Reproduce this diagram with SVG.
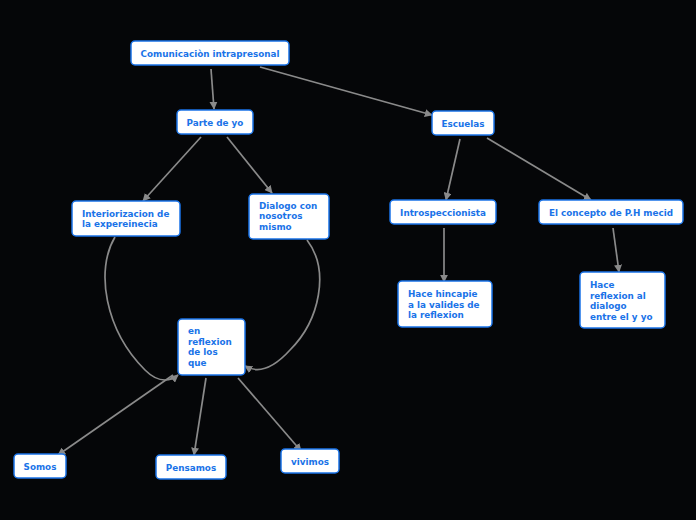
<svg xmlns="http://www.w3.org/2000/svg" width="696" height="520" viewBox="0 0 696 520">
<style>
.n rect{fill:#ffffff;stroke:#1a73e8;stroke-width:1.5}
.n text{font-family:"DejaVu Sans",Verdana,sans-serif;font-weight:bold;font-size:8.8px;fill:#1a73e8}
.c path{fill:none;stroke:#8a8a8a;stroke-width:1.7;marker-end:url(#ah)}
</style>
<defs>
<marker id="ah" viewBox="0 0 10 10" refX="9" refY="5" markerWidth="8" markerHeight="8" markerUnits="userSpaceOnUse" orient="auto">
<path d="M0,0 L10,5 L0,10 z" fill="#8a8a8a"/>
</marker>
</defs>
<rect width="696" height="520" fill="#050608"/>
<g id="connectors" class="c">
<path d="M211,69 L214,109"/>
<path d="M260,67 L432,115"/>
<path d="M201,137 L143,201"/>
<path d="M227,137 L272,193"/>
<path d="M460,139 L446,200"/>
<path d="M487,138 L591,200"/>
<path d="M444,228 L444,282"/>
<path d="M613,228 L619,272"/>
<path d="M115,237 C95,270 105,330 145,370 C160,385 172,380 178,375"/>
<path d="M307,240 C330,270 320,320 290,350 C270,372 255,372 245,366"/>
<path d="M173,375 L58,455"/>
<path d="M206,378 L194,455"/>
<path d="M238,378 L301,451"/>
</g>
<g id="n1" class="n"><rect x="131" y="41" width="158" height="24" rx="4"/><text x="210" y="56.5" text-anchor="middle">Comunicaciòn intrapresonal</text></g>
<g id="n2" class="n"><rect x="177" y="110" width="76" height="24" rx="4"/><text x="215" y="125.5" text-anchor="middle">Parte de yo</text></g>
<g id="n3" class="n"><rect x="432" y="111" width="62" height="24" rx="4"/><text x="463" y="126.5" text-anchor="middle">Escuelas</text></g>
<g id="n4" class="n"><rect x="72" y="201" width="108" height="35" rx="4"/><text x="82" y="216.5">Interiorizacion de</text><text x="82" y="227">la expereinecia</text></g>
<g id="n5" class="n"><rect x="249" y="194" width="80" height="45" rx="4"/><text x="259" y="208.5">Dialogo con</text><text x="259" y="219">nosotros</text><text x="259" y="229.5">mismo</text></g>
<g id="n6" class="n"><rect x="390" y="200" width="106" height="24" rx="4"/><text x="443" y="215.5" text-anchor="middle">Introspeccionista</text></g>
<g id="n7" class="n"><rect x="539" y="200" width="144" height="24" rx="4"/><text x="611" y="215.5" text-anchor="middle">El concepto de P.H mecid</text></g>
<g id="n8" class="n"><rect x="398" y="281" width="94" height="46" rx="4"/><text x="408" y="297">Hace hincapie</text><text x="408" y="307.5">a la valides de</text><text x="408" y="318">la reflexion</text></g>
<g id="n9" class="n"><rect x="580" y="272" width="85" height="56" rx="4"/><text x="590" y="288">Hace</text><text x="590" y="298.5">reflexion al</text><text x="590" y="309">dialogo</text><text x="590" y="319.5">entre el y yo</text></g>
<g id="n10" class="n"><rect x="178" y="319" width="67" height="56" rx="4"/><text x="188" y="334">en</text><text x="188" y="344.5">reflexion</text><text x="188" y="355">de los</text><text x="188" y="365.5">que</text></g>
<g id="n11" class="n"><rect x="14" y="454" width="52" height="24" rx="4"/><text x="40" y="469.5" text-anchor="middle">Somos</text></g>
<g id="n12" class="n"><rect x="156" y="455" width="70" height="24" rx="4"/><text x="191" y="470.5" text-anchor="middle">Pensamos</text></g>
<g id="n13" class="n"><rect x="281" y="449" width="58" height="24" rx="4"/><text x="310" y="464.5" text-anchor="middle">vivimos</text></g>
</svg>
